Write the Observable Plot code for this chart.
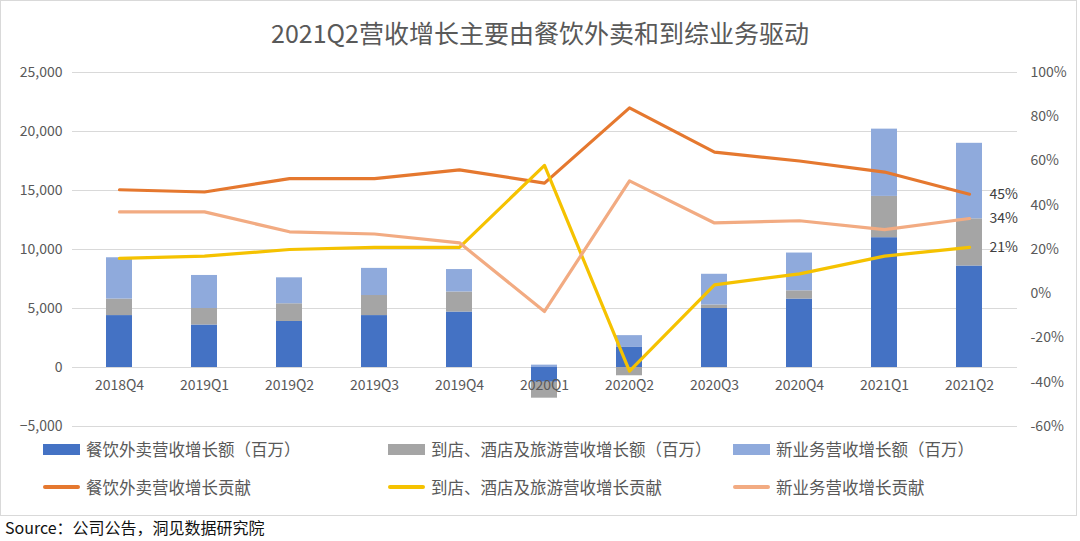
<!DOCTYPE html>
<html>
<head>
<meta charset="utf-8">
<script src="https://cdn.jsdelivr.net/npm/d3@7"></script>
<script src="https://cdn.jsdelivr.net/npm/@observablehq/plot@0.6"></script>
<style>
  html, body { margin: 0; padding: 0; background: #fff; }
  body { width: 1080px; height: 541px; position: relative; overflow: hidden;
         font-family: "Noto Sans CJK SC", "Noto Sans", sans-serif; }
  #frame { position: absolute; left: 0; top: 0; width: 1077px; height: 516px;
           box-sizing: border-box; border: 1px solid #d9d9d9; }
  #title { position: absolute; left: 0; top: 13px; width: 1080px; text-align: center;
           font-size: 25px; line-height: 38px; color: #595959; }
  #chart { position: absolute; left: 0; top: 50px; }
  .leg { position: absolute; font-size: 16.5px; line-height: 20px; color: #595959; white-space: nowrap; }
  .sw { position: absolute; }
  #source { position: absolute; left: 5px; top: 517px; font-size: 16px; line-height: 20px; color: #111; }
</style>
</head>
<body>
<div id="frame"></div>
<div id="title">2021Q2营收增长主要由餐饮外卖和到综业务驱动</div>
<div id="chart"></div>
<div id="legend"></div>
<div id="source">Source：公司公告，洞见数据研究院</div>
<script>
// ---- data ----
const categories = ["2018Q4","2019Q1","2019Q2","2019Q3","2019Q4","2020Q1","2020Q2","2020Q3","2020Q4","2021Q1","2021Q2"];
const barSeries = ["餐饮外卖营收增长额（百万）","到店、酒店及旅游营收增长额（百万）","新业务营收增长额（百万）"];
const foodGrowth    = [4400, 3600, 3900, 4400, 4700, -1250, 1700, 5000, 5800, 11000, 8600];
const inStoreGrowth = [1400, 1400, 1500, 1700, 1700, -1350, -700,  300,  700,  3500, 4000];
const newBizGrowth  = [3500, 2800, 2200, 2300, 1900,   200, 1000, 2600, 3200,  5700, 6400];
const lineSeries = ["餐饮外卖营收增长贡献","到店、酒店及旅游营收增长贡献","新业务营收增长贡献"];
const foodPct    = [47, 46, 52, 52, 56, 50, 84, 64, 60, 55, 45];
const inStorePct = [16, 17, 20, 21, 21, 58, -35, 4, 9, 17, 21];
const newBizPct  = [37, 37, 28, 27, 23, -8, 51, 32, 33, 29, 34];
const leftTicks  = [-5000, 0, 5000, 10000, 15000, 20000, 25000];
const rightTicks = [-60, -40, -20, 0, 20, 40, 60, 80, 100];
const barColors  = ["#4472C4", "#A5A5A5", "#8FAADC"];
const lineColors = ["#E5782F", "#F5C200", "#F2AB82"];

// ---- tables ----
const barValues = [foodGrowth, inStoreGrowth, newBizGrowth];
const bars = barSeries.flatMap((s, k) => categories.map((c, i) => ({cat: c, series: s, value: barValues[k][i]})));
const pctValues = [foodPct, inStorePct, newBizPct];
const lines = lineSeries.flatMap((s, k) => categories.map((c, i) => ({cat: c, series: s, pct: pctValues[k][i]})));
const lastPoints = lineSeries.map((s, k) => ({cat: categories[categories.length - 1], series: s, pct: pctValues[k][categories.length - 1]}));

// right axis (-60%..100%) mapped onto left axis (-5000..25000)
const L0 = -5000, L1 = 25000, R0 = -60, R1 = 100;
const toLeft = p => L0 + (p - R0) / (R1 - R0) * (L1 - L0);

const plot = Plot.plot({
  width: 1080,
  height: 390,
  marginTop: 22,
  marginBottom: 14,
  marginLeft: 72,
  marginRight: 63,
  style: {fontFamily: "'Noto Sans CJK SC', 'Noto Sans', sans-serif", fontSize: "14px", color: "#595959", background: "transparent"},
  x: {type: "band", domain: categories, paddingInner: 0.69, paddingOuter: 0.345, axis: null},
  y: {domain: [L0, L1], axis: null},
  color: {domain: barSeries, range: barColors},
  marks: [
    Plot.ruleY(leftTicks, {stroke: "#d9d9d9", strokeWidth: 1}),
    Plot.axisY({ticks: leftTicks, tickSize: 0, tickPadding: 10, tickFormat: d3.format(","), label: null, fill: "#595959"}),
    Plot.axisY({anchor: "right", ticks: rightTicks.map(toLeft), tickSize: 0, tickPadding: 13, label: null, fill: "#595959",
                tickFormat: v => Math.round(R0 + (v - L0) / (L1 - L0) * (R1 - R0)) + "%"}),
    Plot.barY(bars, {x: "cat", y: "value", fill: "series"}),
    Plot.text(categories, {x: d => d, y: () => 0, dy: 18, fill: "#595959", fontSize: 14}),
    Plot.line(lines, {x: "cat", y: d => toLeft(d.pct), z: "series",
                      stroke: d => lineColors[lineSeries.indexOf(d.series)], strokeWidth: 3.2, strokeLinejoin: "round"}),
    Plot.text(lastPoints, {x: "cat", y: d => toLeft(d.pct), text: d => d.pct + "%", dx: 20, textAnchor: "start", fill: "#404040", fontSize: 14})
  ]
});
document.getElementById("chart").appendChild(plot);

// ---- legend ----
const legend = document.getElementById("legend");
const cols = [43, 388, 733];
barSeries.forEach((s, k) => {
  const sw = document.createElement("div");
  sw.className = "sw";
  Object.assign(sw.style, {left: cols[k] + "px", top: "444px", width: "37px", height: "11px", background: barColors[k]});
  legend.appendChild(sw);
  const t = document.createElement("div");
  t.className = "leg"; t.textContent = s;
  Object.assign(t.style, {left: (cols[k] + 43) + "px", top: "439px"});
  legend.appendChild(t);
});
lineSeries.forEach((s, k) => {
  const sw = document.createElement("div");
  sw.className = "sw";
  Object.assign(sw.style, {left: cols[k] + "px", top: "485px", width: "37px", height: "4px", borderRadius: "2px", background: lineColors[k]});
  legend.appendChild(sw);
  const t = document.createElement("div");
  t.className = "leg"; t.textContent = s;
  Object.assign(t.style, {left: (cols[k] + 43) + "px", top: "477px"});
  legend.appendChild(t);
});
</script>
</body>
</html>
